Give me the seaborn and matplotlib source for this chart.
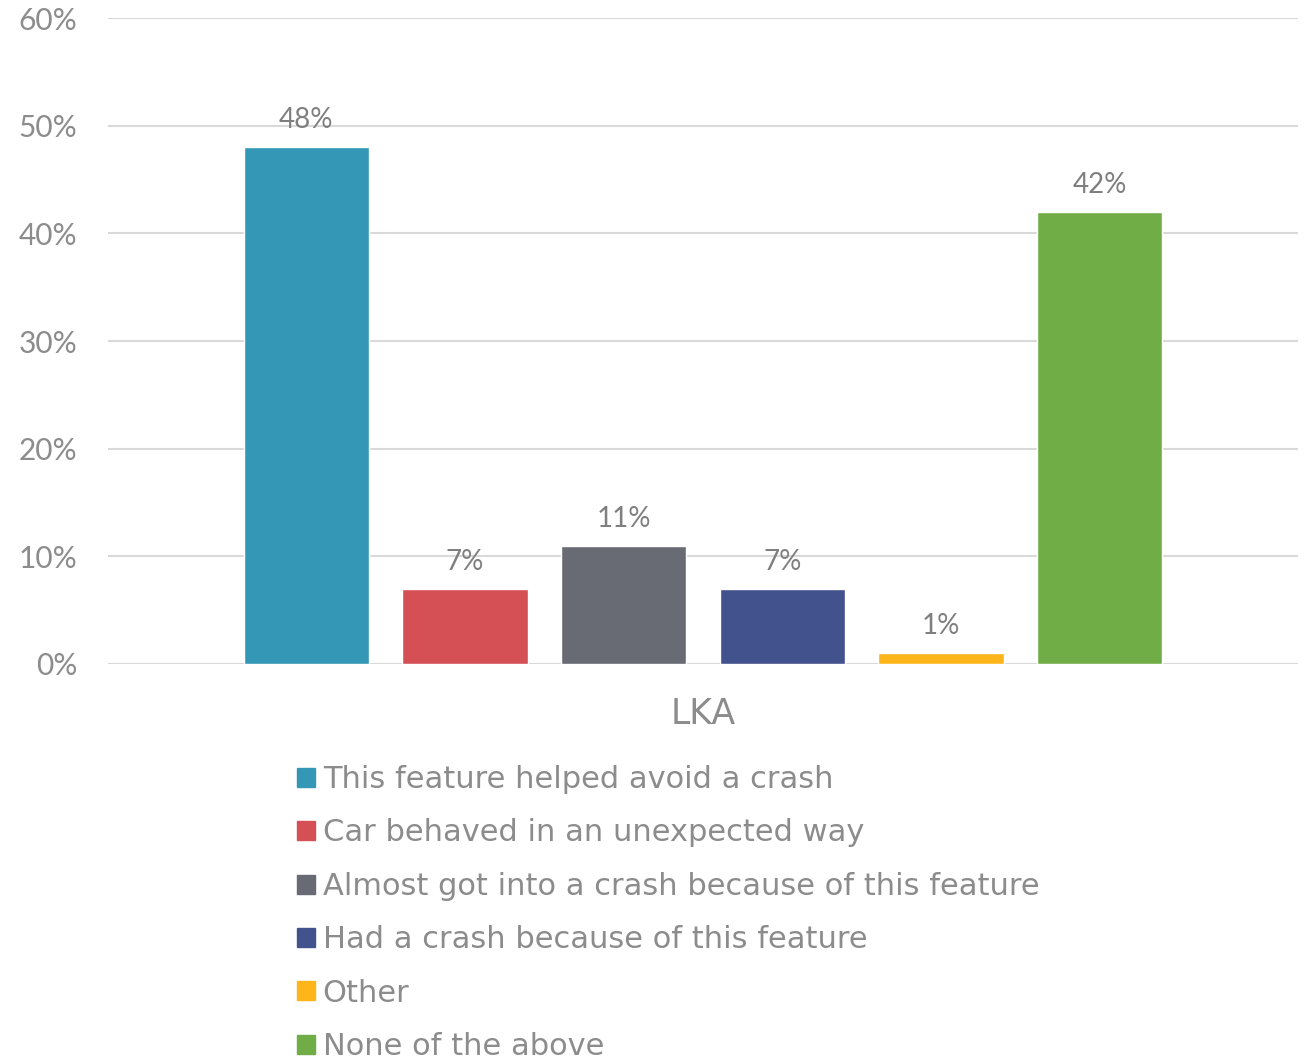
import numpy as np
import pandas as pd
import seaborn as sns
import matplotlib.pyplot as plt
import matplotlib.ticker as ticker

group = ["LKA"]
responses = ["This feature helped avoid a crash",
             "Car behaved in an unexpected way",
             "Almost got into a crash because of this feature",
             "Had a crash because of this feature",
             "Other",
             "None of the above"]
shares = [0.48, 0.07, 0.11, 0.07, 0.01, 0.42]
colors = ["#3397B5", "#D45055", "#686B73", "#41528C", "#FDB51A", "#70AD47"]

df = pd.DataFrame({"group": group * len(responses), "response": responses, "share": shares})

sns.set_theme(style="white")
plt.rcParams['font.family'] = ['Lato', 'DejaVu Sans']

fig = plt.figure(figsize=(13.12, 10.61), dpi=100)
ax = fig.add_axes([0.0823, 0.3742, 0.907, 0.6088])

sns.barplot(data=df, x="group", y="share", hue="response", hue_order=responses,
            palette=colors, gap=0.21, width=0.8, saturation=1, ax=ax, legend=False)

ax.set_ylim(0, 0.6)
ax.set_xlim(-0.5, 0.5)
ax.yaxis.set_major_locator(ticker.MultipleLocator(0.1))
ax.yaxis.set_major_formatter(ticker.PercentFormatter(1.0, decimals=0))
ax.grid(axis="y", color="#D9D9D9", linewidth=1.5)
ax.set_axisbelow(True)
for s in ax.spines.values():
    s.set_visible(False)
ax.tick_params(axis="y", labelsize=21.5, labelcolor="#8C8C8C", pad=22, length=0)
ax.tick_params(axis="x", labelsize=25, labelcolor="#8C8C8C", pad=24, length=0)
for lab in ax.get_xticklabels():
    lab.set_family(['DejaVu Sans'])
ax.set_xlabel("")
ax.set_ylabel("")

for cont in ax.containers:
    ax.bar_label(cont, labels=[f"{v*100:.0f}%" for v in cont.datavalues],
                 padding=10, fontsize=20, color="#7F7F7F")

handles = [plt.Rectangle((0, 0), 1, 1, color=c) for c in colors]
fig.legend(handles, responses, loc="upper left", bbox_to_anchor=(0.2266, 0.279),
           frameon=False, prop={"family": "DejaVu Sans", "size": 22}, labelcolor="#8C8C8C",
           handlelength=0.58, handleheight=0.58, handletextpad=0.25,
           labelspacing=0.8, borderaxespad=0, borderpad=0)

fig.savefig("out.png", dpi=100)
